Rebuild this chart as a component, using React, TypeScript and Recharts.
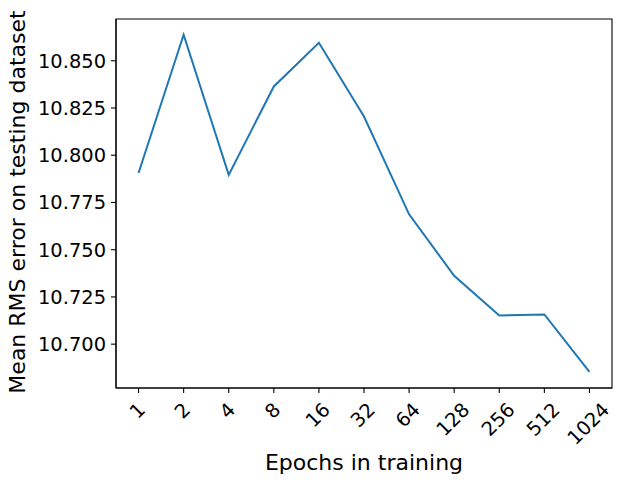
import React from "react";
import { LineChart, Line, XAxis, YAxis, Label, ReferenceArea } from "recharts";

const epochLabels = ["1", "2", "4", "8", "16", "32", "64", "128", "256", "512", "1024"];
const rmsValues = [10.7906, 10.8638, 10.7896, 10.8364, 10.8595, 10.8205, 10.7687, 10.7362, 10.7152, 10.7157, 10.6853];
const yTicks = [10.7, 10.725, 10.75, 10.775, 10.8, 10.825, 10.85];
const yDomain = [10.6768, 10.8721];
const xDomain = [-0.5, 10.5];
const xIndexTicks = epochLabels.map((_, i) => i);

const data = epochLabels.map((label, i) => ({ idx: i, label, rms: rmsValues[i] }));

const FONT = "DejaVu Sans, sans-serif";
const TICK_FS = 19.44;

const XTick = (props: any) => {
  const { x, y, payload } = props;
  const label = epochLabels[payload.value] ?? "";
  const w = label.length * 0.636 * TICK_FS;
  const h = 1.164 * TICK_FS;
  const half = (w + h) / (2 * Math.SQRT2);
  const cx = x - 1.5;
  const cy = y + half;
  return (
    <text
      x={cx}
      y={cy}
      dy="0.365em"
      textAnchor="middle"
      transform={`rotate(-45, ${cx}, ${cy})`}
      fontSize={TICK_FS}
      fontFamily={FONT}
      fill="#000"
    >
      {label}
    </text>
  );
};

const XTitle = (props: any) => {
  const vb = props.viewBox || {};
  const cx = (vb.x ?? 116) + (vb.width ?? 496) / 2;
  return (
    <text x={cx} y={469.5} textAnchor="middle" fontSize={22} fontFamily={FONT} fill="#000">
      Epochs in training
    </text>
  );
};

const YTitle = () => {
  const x = 25;
  const y = 202;
  return (
    <text
      x={x}
      y={y}
      textAnchor="middle"
      transform={`rotate(-90, ${x}, ${y})`}
      fontSize={22}
      fontFamily={FONT}
      fill="#000"
    >
      Mean RMS error on testing dataset
    </text>
  );
};

export default function App() {
  return (
    <div style={{ position: "absolute", left: 0, top: 0, width: 624, height: 485, background: "#fff" }}>
      <LineChart width={624} height={485} data={data} margin={{ top: 19, right: 12, bottom: 0, left: 0 }}>
        <XAxis
          dataKey="idx"
          type="number"
          domain={xDomain}
          ticks={xIndexTicks}
          interval={0}
          height={97}
          tickSize={5}
          tickMargin={5}
          tick={<XTick />}
          stroke="#000"
          strokeWidth={1.1}
          allowDataOverflow
        >
          <Label content={XTitle} />
        </XAxis>
        <YAxis
          type="number"
          domain={yDomain}
          ticks={yTicks}
          width={116}
          tickSize={5}
          tickMargin={5}
          tickFormatter={(v: number) => v.toFixed(3)}
          tick={{ fontSize: TICK_FS, fontFamily: FONT, fill: "#000" }}
          stroke="#000"
          strokeWidth={1.1}
          allowDataOverflow
        >
          <Label content={YTitle} />
        </YAxis>
        <ReferenceArea
          x1={xDomain[0]}
          x2={xDomain[1]}
          y1={yDomain[0]}
          y2={yDomain[1]}
          fill="none"
          fillOpacity={0}
          stroke="#000"
          strokeWidth={1.1}
          strokeOpacity={1}
          ifOverflow="visible"
        />
        <Line
          dataKey="rms"
          stroke="#1f77b4"
          strokeWidth={2}
          dot={false}
          activeDot={false}
          isAnimationActive={false}
        />
      </LineChart>
    </div>
  );
}
